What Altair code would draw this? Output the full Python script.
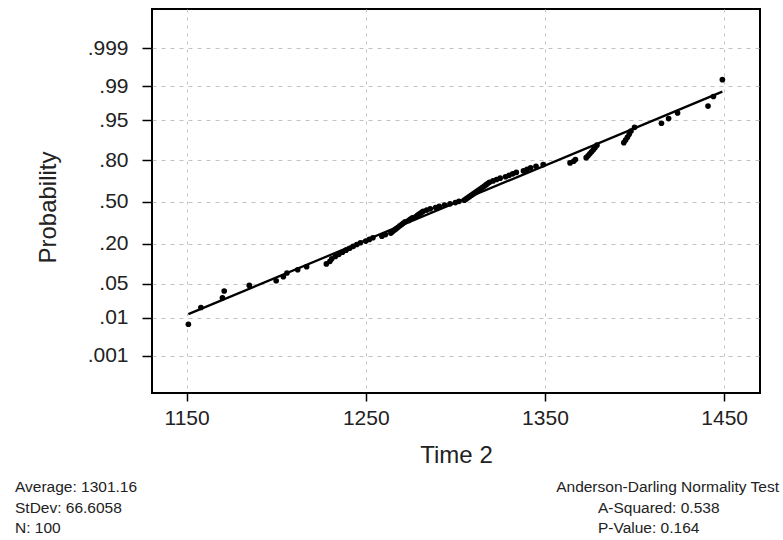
import altair as alt
import pandas as pd
from statistics import NormalDist

time2 = [
    1151, 1158, 1170, 1171, 1185, 1200, 1204, 1206, 1212, 1217,
    1228, 1230, 1231, 1233, 1235, 1237, 1239, 1241, 1243, 1245,
    1247, 1250, 1252, 1254, 1259, 1261, 1264, 1265, 1266, 1267,
    1268, 1269, 1270, 1271, 1272, 1274, 1275, 1276, 1278, 1279,
    1280, 1281, 1282, 1284, 1286, 1289, 1291, 1294, 1297, 1300,
    1302, 1305, 1306, 1307, 1308, 1309, 1310, 1311, 1312, 1313,
    1314, 1315, 1316, 1317, 1318, 1319, 1321, 1323, 1325, 1328,
    1330, 1332, 1334, 1338, 1340, 1342, 1345, 1349, 1364, 1366,
    1367, 1373, 1374, 1375, 1376, 1377, 1378, 1379, 1394, 1395,
    1396, 1397, 1398, 1400, 1415, 1419, 1424, 1441, 1444, 1449,
]
prob_labels = [".001", ".01", ".05", ".20", ".50", ".80", ".95", ".99", ".999"]
prob_values = [0.001, 0.01, 0.05, 0.20, 0.50, 0.80, 0.95, 0.99, 0.999]
x_ticks = [1150, 1250, 1350, 1450]
mean_val = 1301.16
sd_val = 66.6058
n_val = 100

left_lines = ["Average: 1301.16", "StDev: 66.6058", "N: 100"]
right_title = "Anderson-Darling Normality  Test"
right_lines = ["A-Squared: 0.538", "P-Value:   0.164"]

nd = NormalDist()
vals = sorted(time2)
n = len(vals)
pts = pd.DataFrame({
    "time": vals,
    "z": [nd.inv_cdf((i + 1 - 0.3) / (n + 0.4)) for i in range(n)],
})
ends = [min(vals), max(vals)]
fit = pd.DataFrame({"time": ends, "z": [(v - mean_val) / sd_val for v in ends]})

z_ticks = [nd.inv_cdf(p) for p in prob_values]
expr = "''"
for zt, lab in zip(z_ticks, prob_labels):
    expr = f"abs(datum.value - ({zt:.5f})) < 0.01 ? '{lab}' : (" + expr + ")"

FONT = "Liberation Sans"

xscale = alt.Scale(domain=[1130.7, 1470], nice=False, zero=False)
yscale = alt.Scale(domain=[-3.84, 3.88], nice=False, zero=False)

xaxis = alt.Axis(
    values=x_ticks, title="Time 2", grid=True, gridDash=[3, 5], gridColor="#c2c2c2",
    gridWidth=1, domain=False, tickColor="black", tickWidth=1.5, tickSize=8,
    labelFontSize=21, labelFont=FONT, labelColor="#222222", labelPadding=6,
    titleFontSize=24, titleFont=FONT, titleFontWeight="normal", titleColor="#222222",
    titleY=62, titleBaseline="middle", format="d",
)
yaxis = alt.Axis(
    values=z_ticks, labelExpr=expr, title="Probability", grid=True, gridDash=[4, 5],
    gridColor="#c2c2c2", gridWidth=1, domain=False, tickColor="black", tickWidth=1.5,
    tickSize=10, labelFontSize=21, labelFont=FONT, labelColor="#222222", labelPadding=14,
    titleFontSize=24, titleFont=FONT, titleFontWeight="normal", titleColor="#222222",
    titleX=-104, titleY=198, titleBaseline="middle", titleAlign="center",
)

points = alt.Chart(pts).mark_point(filled=True, color="black", size=32, opacity=1).encode(
    x=alt.X("time:Q", scale=xscale, axis=xaxis),
    y=alt.Y("z:Q", scale=yscale, axis=yaxis),
)
line = alt.Chart(fit).mark_line(color="black", strokeWidth=2.3).encode(
    x=alt.X("time:Q", scale=xscale),
    y=alt.Y("z:Q", scale=yscale),
)

layers = [line, points]
for i, t in enumerate(left_lines):
    layers.append(
        alt.Chart(pd.DataFrame({"t": [t]})).mark_text(
            align="left", baseline="middle", font=FONT, fontSize=15.5, color="#222222"
        ).encode(text="t:N", x=alt.value(-137), y=alt.value(478 + 20.5 * i))
    )
layers.append(
    alt.Chart(pd.DataFrame({"t": [right_title]})).mark_text(
        align="right", baseline="middle", font=FONT, fontSize=15.5, color="#222222"
    ).encode(text="t:N", x=alt.value(627), y=alt.value(478))
)
for i, t in enumerate(right_lines):
    layers.append(
        alt.Chart(pd.DataFrame({"t": [t]})).mark_text(
            align="left", baseline="middle", font=FONT, fontSize=15.5, color="#222222"
        ).encode(text="t:N", x=alt.value(446), y=alt.value(498.5 + 20.5 * i))
    )

chart = alt.layer(*layers).properties(
    width=608, height=384,
    autosize=alt.AutoSizeParams(type="none"),
    padding={"left": 152, "top": 9, "right": 23, "bottom": 147},
    background="white",
).configure_view(stroke="black", strokeWidth=2)

chart.save("out.html", embed_options={"renderer": "svg", "actions": False})
